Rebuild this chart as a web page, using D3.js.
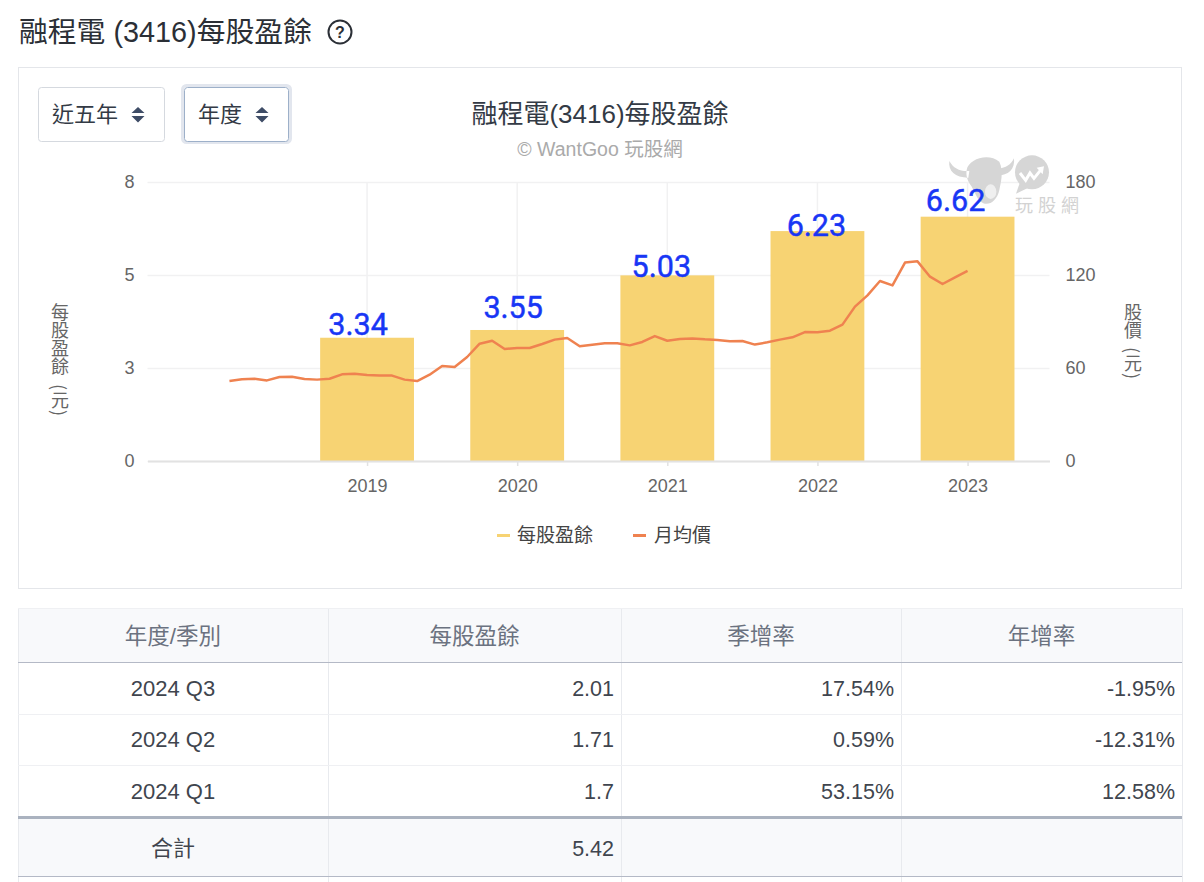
<!DOCTYPE html>
<html lang="zh-Hant">
<head>
<meta charset="utf-8">
<title>融程電 (3416) 每股盈餘</title>
<script src="https://cdn.jsdelivr.net/npm/d3@7"></script>
<style>
  html, body { margin: 0; padding: 0; background: #fff; overflow: hidden; }
  svg { display: block; }
  text { font-family: "Liberation Sans", "Noto Sans CJK TC", sans-serif; }
  .tick text { font-size: 18px; fill: #666; }
  .vertical { writing-mode: vertical-rl; font-size: 18px; fill: #666; font-family: "Noto Sans CJK TC", sans-serif; }
</style>
</head>
<body>
<svg id="page" width="1204" height="882"></svg>
<script>
// Annual earnings per share
const years = ["2019", "2020", "2021", "2022", "2023"];
const eps = [3.34, 3.55, 5.03, 6.23, 6.62];

// Monthly average share price, January 2019 to December 2023
const monthlyPrice = [
  51.6, 52.7, 53.1, 52.0, 54.2, 54.4, 52.9, 52.5, 53.1, 55.9, 56.3, 55.5,
  55.1, 55.1, 52.5, 51.6, 55.7, 61.3, 60.6, 67.1, 75.7, 77.6, 72.3, 72.9,
  72.9, 75.5, 78.3, 79.4, 74.0, 75.0, 75.9, 75.9, 74.6, 76.8, 80.6, 77.6,
  78.7, 79.1, 78.5, 78.1, 77.2, 77.4, 75.1, 76.6, 78.3, 79.8, 83.2, 83.0,
  84.1, 88.0, 99.6, 106.9, 116.1, 113.3, 128.0, 128.8, 118.9, 114.2, 118.5, 122.6
];

// Axis ticks: the left axis prints its fractional steps rounded to whole numbers
const epsTicks = [0, 2.52, 5.04, 7.56];
const priceTicks = [0, 60, 120, 180];

// Quarterly table
const tableHeaders = ["年度/季別", "每股盈餘", "季增率", "年增率"];
const quarters = ["2024 Q3", "2024 Q2", "2024 Q1"];
const quarterEps = ["2.01", "1.71", "1.7"];
const quarterQoq = ["17.54%", "0.59%", "53.15%"];
const quarterYoy = ["-1.95%", "-12.31%", "12.58%"];
const totalLabel = "合計";
const totalEps = "5.42";

const svg = d3.select("#page");
const ink = "#333a45";

// Page heading with help icon
svg.append("text").attr("x", 19).attr("y", 42)
  .attr("font-size", 28.8).attr("fill", "#2b2f36").text("融程電 (3416)每股盈餘");
const help = svg.append("g").attr("transform", "translate(340,32)");
help.append("circle").attr("r", 11.5).attr("fill", "none").attr("stroke", "#2b2f36").attr("stroke-width", 2);
help.append("text").attr("text-anchor", "middle").attr("y", 6).attr("font-size", 16)
  .attr("font-weight", 700).attr("fill", "#2b2f36").text("?");

// Chart card
svg.append("rect").attr("x", 18.5).attr("y", 67.5).attr("width", 1163).attr("height", 521)
  .attr("fill", "#fff").attr("stroke", "#e4e6ea");

// Range and period selectors
function selector(x, w, label, focused) {
  const g = svg.append("g").attr("transform", `translate(${x},87)`);
  if (focused) {
    g.append("rect").attr("x", -1.5).attr("y", -1.5).attr("width", w + 3).attr("height", 57).attr("rx", 4)
      .attr("fill", "none").attr("stroke", "#e2e6ee").attr("stroke-width", 3);
  }
  g.append("rect").attr("x", 0.5).attr("y", 0.5).attr("width", w - 1).attr("height", 54).attr("rx", 3)
    .attr("fill", "#fff").attr("stroke", focused ? "#9db0c9" : "#d5d9df");
  g.append("text").attr("x", 14).attr("y", 35).attr("font-size", 22).attr("fill", ink).text(label);
  const cx = w - 27;
  g.append("path").attr("fill", "#3e4c66")
    .attr("d", `M${cx - 6.5},26 L${cx},20 L${cx + 6.5},26 Z M${cx - 6.5},29 L${cx},35.5 L${cx + 6.5},29 Z`);
}
selector(38, 127, "近五年", false);
selector(184, 105, "年度", true);

// Chart titles
svg.append("text").attr("x", 600).attr("y", 123).attr("text-anchor", "middle")
  .attr("font-size", 26).attr("fill", ink).text("融程電(3416)每股盈餘");
svg.append("text").attr("x", 600).attr("y", 156).attr("text-anchor", "middle")
  .attr("font-size", 19.5).attr("fill", "#aaa").text("© WantGoo 玩股網");

// Scales: one point per month, with the year ticks on each December
const plot = { left: 147.5, right: 1049.5, top: 182, bottom: 461 };
const months = years.flatMap(y => d3.range(1, 13).map(m => `${y}-${String(m).padStart(2, "0")}`));
const x = d3.scalePoint().domain(months).range([plot.left, plot.right]).padding(6.55);
const yEps = d3.scaleLinear().domain([0, 7.56]).range([plot.bottom, plot.top]);
const yPrice = d3.scaleLinear().domain([0, 180]).range([plot.bottom, plot.top]);
const december = y => `${y}-12`;
const barWidth = x.step() * 7.5;

// Horizontal grid and left axis
const leftAxis = svg.append("g").attr("transform", `translate(${plot.left},0)`)
  .call(d3.axisLeft(yEps).tickValues(epsTicks).tickFormat(d3.format(".0f"))
    .tickSize(-(plot.right - plot.left)).tickPadding(13));
leftAxis.select(".domain").remove();
leftAxis.selectAll(".tick line").attr("stroke", "#f1f1f2").attr("stroke-width", 1.5);

// Right axis
const rightAxis = svg.append("g").attr("transform", `translate(${plot.right},0)`)
  .call(d3.axisRight(yPrice).tickValues(priceTicks).tickSize(0).tickPadding(16));
rightAxis.select(".domain").remove();

// Vertical grid at each year
svg.append("g").selectAll("line").data(years).join("line")
  .attr("x1", d => x(december(d))).attr("x2", d => x(december(d)))
  .attr("y1", plot.top).attr("y2", plot.bottom)
  .attr("stroke", "#f1f1f2").attr("stroke-width", 1.5);

// Faint brand mark in the plot corner
const mark = svg.append("g").attr("transform", "translate(940,145) scale(0.3333)");
mark.append("path").attr("fill", "#d6d6d6").attr("d",
  "M80,75 C85,42 145,22 178,50 C192,80 182,115 178,135 C172,165 150,182 130,175 C108,165 104,135 90,118 C80,102 78,88 80,75Z" +
  "M28,48 C24,78 45,98 85,98 L88,78 C60,80 40,70 28,48Z" +
  "M222,40 C226,72 205,92 172,92 L170,70 C195,72 212,60 222,40Z");
mark.append("ellipse").attr("cx", 152).attr("cy", 140).attr("rx", 17).attr("ry", 22).attr("fill", "#efefef");
mark.append("circle").attr("cx", 276).attr("cy", 82).attr("r", 51).attr("fill", "#d6d6d6");
mark.append("path").attr("fill", "#d6d6d6").attr("d", "M240,112 L228,146 L265,128 Z");
mark.append("path").attr("fill", "none").attr("stroke", "#fff").attr("stroke-width", 9)
  .attr("d", "M240,84 L257,106 L270,84 L282,100 L303,74");
mark.append("path").attr("fill", "#fff").attr("d", "M290,68 L312,64 L308,88 Z");
svg.append("text").attr("x", 1015).attr("y", 212).attr("font-size", 18).attr("letter-spacing", 5)
  .attr("fill", "#d2d2d2").text("玩股網");

// Annual EPS bars
svg.append("g").selectAll("rect").data(years).join("rect")
  .attr("x", d => x(december(d)) - barWidth / 2)
  .attr("width", barWidth)
  .attr("y", (d, i) => yEps(eps[i]))
  .attr("height", (d, i) => yEps(0) - yEps(eps[i]))
  .attr("fill", "#f7d373");

// Bottom axis
const bottomAxis = svg.append("g").attr("transform", `translate(0,${plot.bottom})`)
  .call(d3.axisBottom(x).tickValues(years.map(december)).tickFormat(d => d.slice(0, 4))
    .tickSizeInner(5).tickSizeOuter(0).tickPadding(13));
bottomAxis.select(".domain").attr("stroke", "#e2e2e2").attr("stroke-width", 2);
bottomAxis.selectAll(".tick line").attr("stroke", "#e2e2e2").attr("stroke-width", 1.5);

// Monthly average price line
svg.append("path").datum(monthlyPrice)
  .attr("fill", "none").attr("stroke", "#ef8250").attr("stroke-width", 2.5).attr("stroke-linejoin", "round")
  .attr("d", d3.line().x((d, i) => x(months[i])).y(d => yPrice(d)));

// Value labels sit slightly off-centre of their bars
const labelNudge = [[-9, -3], [-4, -12], [-6, 2], [-1, 5], [-12, -6]];
svg.append("g").selectAll("text").data(eps).join("text")
  .attr("x", (d, i) => x(december(years[i])) + labelNudge[i][0])
  .attr("y", (d, i) => yEps(d) + labelNudge[i][1])
  .attr("text-anchor", "middle")
  .style("font-family", "Roboto, sans-serif")
  .attr("font-size", 30.5).attr("fill", "#1836f5")
  .attr("stroke", "#1836f5").attr("stroke-width", 0.45)
  .text(d => d.toFixed(2));

// Axis titles: the bracketed unit is set apart from the name
function verticalTitle(px, name, unitY) {
  svg.append("text").attr("class", "vertical").attr("x", px).attr("y", 303).text(name);
  svg.append("text").attr("class", "vertical").attr("x", px).attr("y", unitY)
    .attr("letter-spacing", 1).text("(元)");
}
verticalTitle(60, "每股盈餘", 384);
verticalTitle(1133, "股價", 347);

// Legend
const legend = svg.append("g");
legend.append("line").attr("x1", 497).attr("x2", 510).attr("y1", 535.5).attr("y2", 535.5)
  .attr("stroke", "#f7d373").attr("stroke-width", 3);
legend.append("text").attr("x", 517).attr("y", 542).attr("font-size", 19).attr("fill", "#444").text("每股盈餘");
legend.append("line").attr("x1", 633).attr("x2", 646).attr("y1", 535.5).attr("y2", 535.5)
  .attr("stroke", "#ef8250").attr("stroke-width", 3);
legend.append("text").attr("x", 654).attr("y", 542).attr("font-size", 19).attr("fill", "#444").text("月均價");

// Quarterly table
const table = svg.append("g");
const colEdges = [18, 328, 621, 901, 1182];
const tableFill = "#f8f9fb", cellLine = "#e8eaee", heavyLine = "#b4b9c6";
table.append("rect").attr("x", 18).attr("y", 608).attr("width", 1164).attr("height", 54).attr("fill", tableFill);
table.append("rect").attr("x", 18).attr("y", 819).attr("width", 1164).attr("height", 57).attr("fill", tableFill);

table.selectAll("line.col").data(colEdges).join("line").attr("class", "col")
  .attr("x1", d => d + 0.5).attr("x2", d => d + 0.5).attr("y1", 608).attr("y2", 882)
  .attr("stroke", cellLine);
table.append("line").attr("x1", 18).attr("x2", 1182).attr("y1", 608.5).attr("y2", 608.5).attr("stroke", "#eff0f3");
table.append("line").attr("x1", 18).attr("x2", 1182).attr("y1", 662.5).attr("y2", 662.5).attr("stroke", heavyLine);
[714.5, 765.5].forEach(y => table.append("line").attr("x1", 18).attr("x2", 1182).attr("y1", y).attr("y2", y).attr("stroke", "#eff0f3"));
table.append("line").attr("x1", 18).attr("x2", 1182).attr("y1", 817.5).attr("y2", 817.5).attr("stroke", "#aab2bf").attr("stroke-width", 3);
table.append("line").attr("x1", 18).attr("x2", 1182).attr("y1", 876.5).attr("y2", 876.5).attr("stroke", heavyLine);

const colCenter = i => (colEdges[i] + colEdges[i + 1]) / 2;
const colRight = i => colEdges[i + 1] - 7;
table.selectAll("text.head").data(tableHeaders).join("text").attr("class", "head")
  .attr("x", (d, i) => colCenter(i)).attr("y", 644).attr("text-anchor", "middle")
  .attr("font-size", 22.5).attr("fill", "#6b7280").text(d => d);

const rowBase = [696, 747, 799];
const cellFont = 21.5, cellFill = "#40454e";
quarters.forEach((q, r) => {
  table.append("text").attr("x", colCenter(0)).attr("y", rowBase[r]).attr("text-anchor", "middle")
    .attr("font-size", 22).attr("fill", cellFill).text(q);
  [quarterEps[r], quarterQoq[r], quarterYoy[r]].forEach((v, c) => {
    table.append("text").attr("x", colRight(c + 1)).attr("y", rowBase[r]).attr("text-anchor", "end")
      .attr("font-size", cellFont).attr("fill", cellFill).text(v);
  });
});
table.append("text").attr("x", colCenter(0)).attr("y", 856).attr("text-anchor", "middle")
  .attr("font-size", 22).attr("fill", cellFill).text(totalLabel);
table.append("text").attr("x", colRight(1)).attr("y", 856).attr("text-anchor", "end")
  .attr("font-size", cellFont).attr("fill", cellFill).text(totalEps);
</script>
</body>
</html>
